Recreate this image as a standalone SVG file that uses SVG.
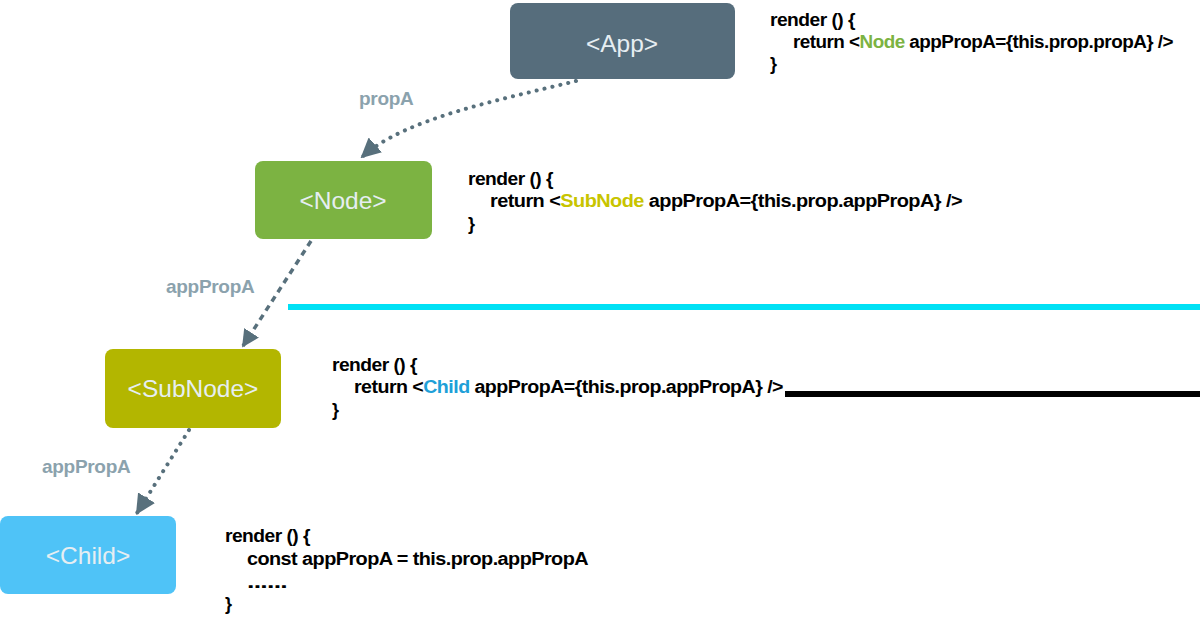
<svg xmlns="http://www.w3.org/2000/svg" width="1200" height="622" viewBox="0 0 1200 622">
<style>
.box{rx:8;ry:8}
.nl{font-family:"Liberation Sans",Arial,sans-serif;font-size:24.5px;fill:#e6eef2;text-anchor:middle}
.code{font-family:"Liberation Sans",Arial,sans-serif;font-size:18px;font-weight:bold;fill:#000;letter-spacing:-0.5px}
.lbl{font-family:"Liberation Sans",Arial,sans-serif;font-size:19px;font-weight:bold;fill:#8ba2ad;letter-spacing:-0.3px}
.conn{fill:none;stroke:#58707c;stroke-width:4;stroke-linecap:round;stroke-dasharray:0.1 8}
.conn2{fill:none;stroke:#58707c;stroke-width:3.5;stroke-dasharray:6 5}
</style>
<defs>
<marker id="ah" viewBox="0 0 10 10" refX="9" refY="5" markerWidth="5" markerHeight="5" orient="auto" markerUnits="strokeWidth">
<path d="M0,0 L10,5 L0,10 z" fill="#58707c"/>
</marker>
</defs>
<rect x="0" y="0" width="1200" height="622" fill="#fff"/>
<rect x="288" y="304" width="912" height="6" fill="#00e1f5"/>
<rect x="785" y="391" width="415" height="6" fill="#000"/>
<g id="connectors">
<path class="conn" d="M576,81 C500,100 405,118 362,157" marker-end="url(#ah)"/>
<path class="conn2" d="M311,241 L243,346" marker-end="url(#ah)"/>
<path class="conn" d="M189,430 L137,513" marker-end="url(#ah)"/>
<text class="lbl" x="359" y="105">propA</text>
<text class="lbl" x="166" y="293">appPropA</text>
<text class="lbl" x="42" y="473">appPropA</text>
</g>
<g id="app">
<rect class="box" x="510" y="3" width="225" height="76" fill="#566d7c"/>
<text class="nl" x="622" y="52">&lt;App&gt;</text>
<text class="code" x="770" y="26" textLength="85" lengthAdjust="spacingAndGlyphs">render () {</text>
<text class="code" x="793" y="48" textLength="380" lengthAdjust="spacingAndGlyphs">return &lt;<tspan fill="#7cb342">Node</tspan> appPropA={this.prop.propA} /&gt;</text>
<text class="code" x="770" y="70">}</text>
</g>
<g id="node">
<rect class="box" x="255" y="161" width="177" height="78" fill="#7cb342"/>
<text class="nl" x="343" y="209">&lt;Node&gt;</text>
<text class="code" x="468" y="185" textLength="85" lengthAdjust="spacingAndGlyphs">render () {</text>
<text class="code" x="490" y="207" textLength="472" lengthAdjust="spacingAndGlyphs">return &lt;<tspan fill="#c8c400">SubNode</tspan> appPropA={this.prop.appPropA} /&gt;</text>
<text class="code" x="468" y="230">}</text>
</g>
<g id="subnode">
<rect class="box" x="105" y="349" width="176" height="79" fill="#b3b600"/>
<text class="nl" x="193" y="397">&lt;SubNode&gt;</text>
<text class="code" x="332" y="371" textLength="85" lengthAdjust="spacingAndGlyphs">render () {</text>
<text class="code" x="354" y="393" textLength="429" lengthAdjust="spacingAndGlyphs">return &lt;<tspan fill="#1ea0d8">Child</tspan> appPropA={this.prop.appPropA} /&gt;</text>
<text class="code" x="332" y="416">}</text>
</g>
<g id="child">
<rect class="box" x="0" y="516" width="176" height="78" fill="#4fc3f7"/>
<text class="nl" x="88" y="564">&lt;Child&gt;</text>
<text class="code" x="225" y="542" textLength="85" lengthAdjust="spacingAndGlyphs">render () {</text>
<text class="code" x="247" y="565" textLength="341" lengthAdjust="spacingAndGlyphs">const appPropA = this.prop.appPropA</text>
<text class="code" x="247" y="588" textLength="40" lengthAdjust="spacingAndGlyphs">......</text>
<text class="code" x="225" y="610">}</text>
</g>
</svg>
